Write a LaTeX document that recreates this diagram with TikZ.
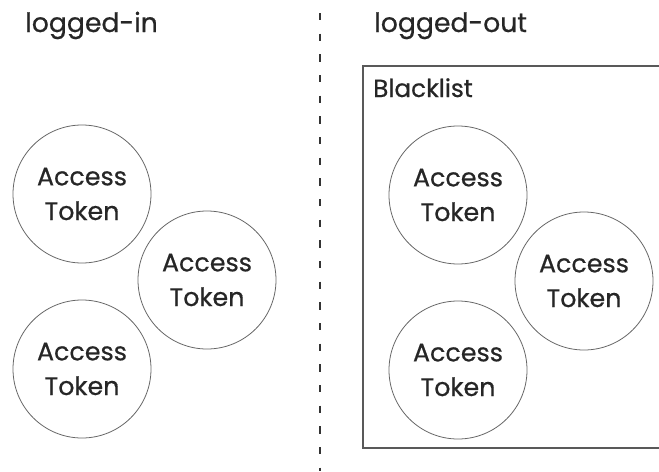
\documentclass[tikz,border=0pt]{standalone}
\usepackage{fontspec}
\setmainfont{Poppins}[UprightFeatures={FakeBold=0.6}]
\begin{document}
\begin{tikzpicture}[x=0.75pt, y=-0.75pt,
    token/.style={circle, draw=black!60, line width=0.6pt, minimum size=103.5pt, inner sep=0pt,
        align=center, text=black!85, font=\fontsize{19}{26}\selectfont},
    heading/.style={anchor=base west, inner sep=0pt, text=black!85, font=\fontsize{20}{26}\selectfont}]
    \useasboundingbox (0,0) rectangle (659,471);

    % Separateur
    \coordinate (sep top) at (320,13);
    \coordinate (sep bottom) at (320,471);
    \draw[black!80, line width=1.2pt, dash pattern=on 5.6pt off 9.9pt] (sep top) -- (sep bottom);

    % Titres
    \node[heading] (in title) at (25,32) {logged-in};
    \node[heading] (out title) at (374,32) {logged-out};

    % Blacklist
    \draw[black!65, line width=1pt] (670,66) -- (363,66) -- (363,448) -- (670,448);
    \node[heading, font=\fontsize{18.5}{24}\selectfont] (blacklist) at (373,97) {Blacklist};

    % Tokens
    \foreach \name/\x/\y in {in a/82/194, in b/207/280, in c/82/369,
                             out a/458/195, out b/584/281, out c/458/370} {
        \node[token] (\name) at (\x,\y) {Access\\Token};
    }
\end{tikzpicture}
\end{document}
